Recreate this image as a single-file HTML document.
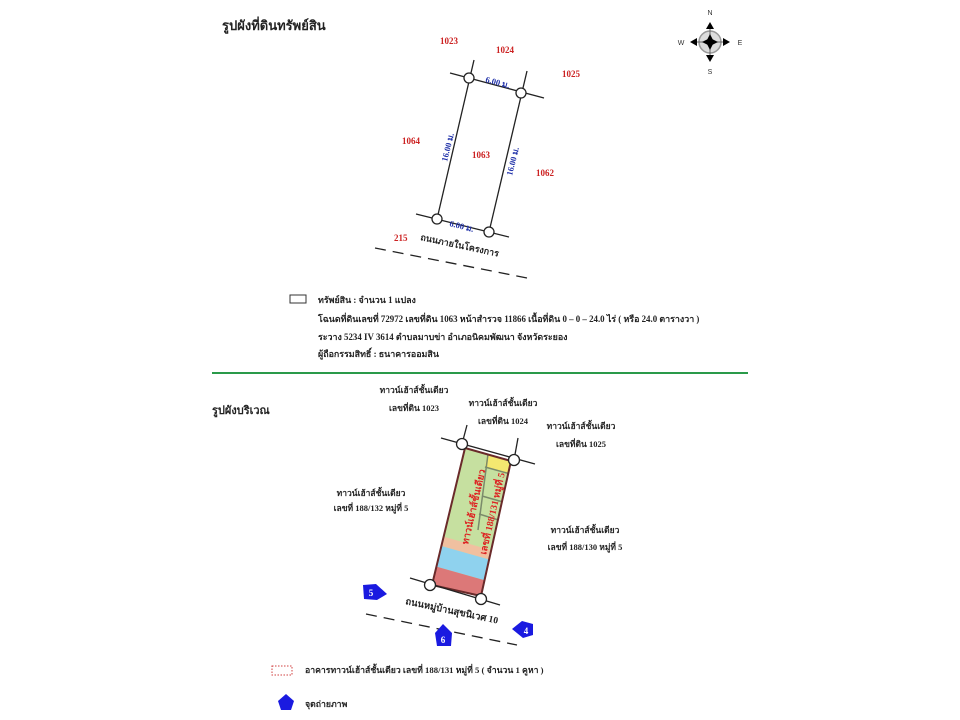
<!DOCTYPE html>
<html><head><meta charset="utf-8"><style>
html,body{margin:0;padding:0;background:#fff;}
svg{display:block;}
text{font-family:"Liberation Serif","Noto Serif CJK SC","Noto Sans CJK SC",serif;font-weight:bold;}
</style></head><body>
<svg width="960" height="720" viewBox="0 0 960 720" xmlns="http://www.w3.org/2000/svg">
<text x="222" y="30" font-size="13" fill="#222">รูปผังที่ดินทรัพย์สิน</text>

<g>
<circle cx="710" cy="42" r="11" fill="#ddd" stroke="#999" stroke-width="1.5"/>
<line x1="710" y1="29" x2="710" y2="55" stroke="#666" stroke-width="1"/>
<line x1="697" y1="42" x2="723" y2="42" stroke="#666" stroke-width="1"/>
<polygon points="710,34 714,42 710,50 706,42" fill="#000"/>
<polygon points="702,42 710,38 718,42 710,46" fill="#000"/>
<polygon points="710,22 706,29 714,29" fill="#000"/>
<polygon points="710,62 706,55 714,55" fill="#000"/>
<polygon points="690,42 697,38 697,46" fill="#000"/>
<polygon points="730,42 723,38 723,46" fill="#000"/>
<text x="710" y="15" font-size="7" fill="#333" text-anchor="middle" style="font-family:'Liberation Sans',sans-serif;font-weight:normal">N</text>
<text x="710" y="74" font-size="7" fill="#333" text-anchor="middle" style="font-family:'Liberation Sans',sans-serif;font-weight:normal">S</text>
<text x="681" y="45" font-size="7" fill="#333" text-anchor="middle" style="font-family:'Liberation Sans',sans-serif;font-weight:normal">W</text>
<text x="740" y="45" font-size="7" fill="#333" text-anchor="middle" style="font-family:'Liberation Sans',sans-serif;font-weight:normal">E</text>
</g>

<g stroke="#222" stroke-width="1.3" fill="none">
<line x1="450" y1="73" x2="544" y2="98"/>
<line x1="474" y1="60" x2="437" y2="219"/>
<line x1="527" y1="71" x2="489" y2="232"/>
<line x1="416" y1="214" x2="509" y2="237"/>
<line x1="375" y1="248" x2="527" y2="278" stroke-dasharray="11,7"/>
</g>
<g fill="#fff" stroke="#222" stroke-width="1.3">
<circle cx="469" cy="78" r="5"/><circle cx="521" cy="93" r="5"/>
<circle cx="437" cy="219" r="5"/><circle cx="489" cy="232" r="5"/>
</g>
<g font-size="9" fill="#cc2222">
<text x="440" y="44">1023</text>
<text x="496" y="53">1024</text>
<text x="562" y="77">1025</text>
<text x="402" y="144">1064</text>
<text x="472" y="158">1063</text>
<text x="536" y="176">1062</text>
<text x="394" y="241">215</text>
</g>
<g font-size="8.5" fill="#2233aa">
<text transform="translate(485,82) rotate(15)">6.00 ม.</text>
<text transform="translate(449,226) rotate(14)">6.00 ม.</text>
<text transform="translate(447,162) rotate(-76)">16.00 ม.</text>
<text transform="translate(512,176) rotate(-76)">16.00 ม.</text>
</g>
<text transform="translate(420,240) rotate(12)" font-size="9" fill="#222">ถนนภายในโครงการ</text>

<rect x="290" y="295" width="16" height="8" fill="#fff" stroke="#333" stroke-width="1"/>
<g font-size="8.9" fill="#222">
<text x="318" y="303">ทรัพย์สิน : จำนวน 1 แปลง</text>
<text x="318" y="322">โฉนดที่ดินเลขที่ 72972 เลขที่ดิน 1063 หน้าสำรวจ 11866 เนื้อที่ดิน 0 – 0 – 24.0 ไร่ ( หรือ 24.0 ตารางวา )</text>
<text x="318" y="340">ระวาง 5234 IV 3614  ตำบลมาบข่า อำเภอนิคมพัฒนา จังหวัดระยอง</text>
<text x="318" y="357">ผู้ถือกรรมสิทธิ์ : ธนาคารออมสิน</text>
</g>

<line x1="212" y1="373" x2="748" y2="373" stroke="#2a9a4a" stroke-width="2"/>

<text x="212" y="414" font-size="11" fill="#222">รูปผังบริเวณ</text>

<g font-size="8.5" fill="#222" text-anchor="middle">
<text x="414" y="393">ทาวน์เฮ้าส์ชั้นเดียว</text>
<text x="414" y="411">เลขที่ดิน 1023</text>
<text x="503" y="406">ทาวน์เฮ้าส์ชั้นเดียว</text>
<text x="503" y="424">เลขที่ดิน 1024</text>
<text x="581" y="429">ทาวน์เฮ้าส์ชั้นเดียว</text>
<text x="581" y="447">เลขที่ดิน 1025</text>
<text x="371" y="496">ทาวน์เฮ้าส์ชั้นเดียว</text>
<text x="371" y="511">เลขที่ 188/132 หมู่ที่ 5</text>
<text x="585" y="533">ทาวน์เฮ้าส์ชั้นเดียว</text>
<text x="585" y="550">เลขที่ 188/130 หมู่ที่ 5</text>
</g>

<defs><clipPath id="bld"><polygon points="465,448 511,461 481,596 432,585"/></clipPath></defs>
<g clip-path="url(#bld)">
<rect x="420" y="440" width="110" height="170" fill="#c6e0a0"/>
<polygon points="420,530 530,561 530,571 420,540" fill="#f0c0a0"/>
<polygon points="420,540 530,571 530,593 420,562" fill="#8fd2ee"/>
<polygon points="420,562 530,593 530,620 420,620" fill="#dc7878"/>
<polygon points="488,450 515,458 511,475 485,467" fill="#f4e870"/>
<g stroke="#7a8a6a" stroke-width="1.5" fill="none">
<polyline points="488,454 478,530"/>
<line x1="485" y1="467" x2="514" y2="475"/>
<line x1="482" y1="496" x2="510" y2="504"/>
<line x1="479" y1="514" x2="505" y2="522"/>
</g>
</g>
<polygon points="465,448 511,461 481,596 432,585" fill="none" stroke="#6a2a2a" stroke-width="2"/>
<g font-size="9.5" fill="#dd2222">
<text transform="translate(468,545) rotate(-77)">ทาวน์เฮ้าส์ชั้นเดียว</text>
<text transform="translate(486,555) rotate(-77)">เลขที่ 188/131 หมู่ที่ 5</text>
</g>
<g stroke="#222" stroke-width="1.3" fill="none">
<line x1="441" y1="438" x2="535" y2="464"/>
<line x1="467" y1="425" x2="462" y2="444"/>
<line x1="518" y1="438" x2="514" y2="460"/>
<line x1="410" y1="578" x2="500" y2="605"/>
<line x1="366" y1="614" x2="517" y2="645" stroke-dasharray="11,7"/>
</g>
<g fill="#fff" stroke="#222" stroke-width="1.3">
<circle cx="462" cy="444" r="5.5"/><circle cx="514" cy="460" r="5.5"/>
<circle cx="430" cy="585" r="5.5"/><circle cx="481" cy="599" r="5.5"/>
</g>
<text transform="translate(405,604) rotate(12)" font-size="9.5" fill="#222">ถนนหมู่บ้านสุขนิเวศ 10</text>

<g fill="#1a1ae0">
<polygon points="363,585 376,584 387,594 377,600 364,599"/>
<polygon points="443,624 452,633 451,646 437,646 435,633"/>
<polygon points="512,629 522,621 533,624 533,635 523,638"/>
</g>
<g font-size="9" fill="#fff" text-anchor="middle">
<text x="371" y="596">5</text>
<text x="443" y="643">6</text>
<text x="526" y="634">4</text>
</g>

<rect x="272" y="666" width="20" height="9" fill="#fff" stroke="#d04040" stroke-width="1" stroke-dasharray="1.5,1.5"/>
<text x="305" y="673" font-size="8.7" fill="#222">อาคารทาวน์เฮ้าส์ชั้นเดียว เลขที่ 188/131 หมู่ที่ 5 ( จำนวน 1 คูหา )</text>
<polygon points="286,694 294,701 291,710 281,710 278,701" fill="#1a1ae0"/>
<text x="305" y="707" font-size="8.7" fill="#222">จุดถ่ายภาพ</text>
</svg>
</body></html>
